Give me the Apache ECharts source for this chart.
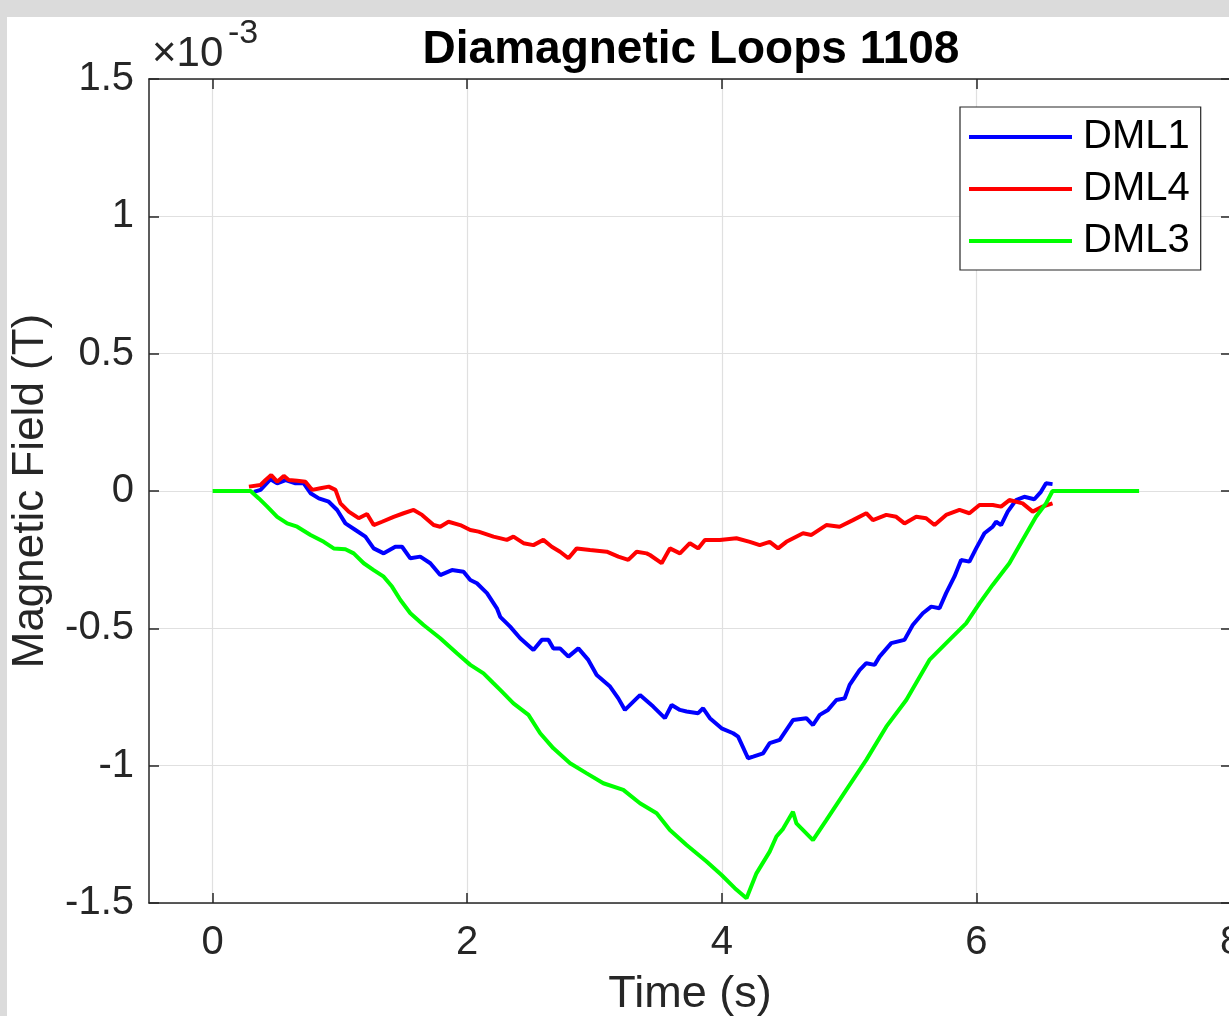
<!DOCTYPE html>
<html>
<head>
<meta charset="utf-8">
<script src="https://cdn.jsdelivr.net/npm/echarts@6/dist/echarts.min.js"></script>
<style>
  html, body { margin: 0; padding: 0; background: #dbdbdb; width: 1229px; height: 1016px; overflow: hidden; }
  #paper { position: absolute; left: 7px; top: 17px; width: 1222px; height: 999px; background: #ffffff; }
  #chart { position: absolute; left: 0; top: 0; width: 1229px; height: 1016px; }
</style>
</head>
<body>
<div id="paper"></div>
<div id="chart"></div>
<script>
// ---- data (values in units of 1e-3 T) ----
const titleText = 'Diamagnetic Loops 1108';
const seriesNames = ['DML1', 'DML4', 'DML3'];
const xTicks = [0, 2, 4, 6, 8];
const yTicks = [-1.5, -1, -0.5, 0, 0.5, 1, 1.5];

const dml1T = [0.324, 0.376, 0.455, 0.507, 0.573, 0.651, 0.716, 0.769, 0.834, 0.912, 0.978, 1.043, 1.122, 1.200, 1.265, 1.344, 1.435, 1.488, 1.553, 1.631, 1.710, 1.788, 1.880, 1.971, 2.024, 2.076, 2.155, 2.233, 2.259, 2.337, 2.416, 2.520, 2.586, 2.638, 2.677, 2.729, 2.795, 2.873, 2.951, 3.017, 3.122, 3.187, 3.239, 3.357, 3.461, 3.553, 3.606, 3.671, 3.723, 3.814, 3.853, 3.906, 3.998, 4.089, 4.128, 4.206, 4.246, 4.324, 4.376, 4.455, 4.559, 4.664, 4.716, 4.769, 4.834, 4.900, 4.965, 5.004, 5.082, 5.135, 5.200, 5.239, 5.331, 5.435, 5.500, 5.579, 5.645, 5.710, 5.762, 5.827, 5.880, 5.945, 5.998, 6.063, 6.128, 6.155, 6.194, 6.246, 6.311, 6.376, 6.455, 6.507, 6.547, 6.598];
const dml1V = [-0.003, 0.004, 0.043, 0.028, 0.040, 0.028, 0.028, -0.008, -0.027, -0.039, -0.069, -0.118, -0.142, -0.166, -0.209, -0.227, -0.203, -0.203, -0.245, -0.239, -0.263, -0.306, -0.288, -0.294, -0.324, -0.336, -0.372, -0.427, -0.458, -0.494, -0.536, -0.579, -0.542, -0.542, -0.573, -0.573, -0.603, -0.573, -0.615, -0.670, -0.712, -0.755, -0.797, -0.743, -0.785, -0.827, -0.779, -0.797, -0.803, -0.809, -0.791, -0.827, -0.864, -0.882, -0.894, -0.973, -0.967, -0.955, -0.918, -0.906, -0.834, -0.827, -0.852, -0.815, -0.797, -0.761, -0.755, -0.706, -0.652, -0.627, -0.633, -0.603, -0.554, -0.542, -0.488, -0.445, -0.421, -0.427, -0.372, -0.312, -0.251, -0.257, -0.209, -0.154, -0.130, -0.112, -0.124, -0.075, -0.033, -0.021, -0.030, -0.003, 0.028, 0.025];

const dml4T = [0.285, 0.376, 0.416, 0.460, 0.507, 0.559, 0.598, 0.664, 0.729, 0.782, 0.847, 0.912, 0.965, 1.004, 1.069, 1.147, 1.213, 1.265, 1.331, 1.422, 1.500, 1.579, 1.645, 1.736, 1.788, 1.853, 1.945, 2.024, 2.089, 2.206, 2.311, 2.363, 2.442, 2.520, 2.598, 2.664, 2.729, 2.795, 2.860, 2.965, 3.096, 3.187, 3.265, 3.331, 3.409, 3.435, 3.527, 3.592, 3.671, 3.749, 3.814, 3.867, 3.984, 4.115, 4.220, 4.298, 4.376, 4.442, 4.507, 4.638, 4.704, 4.821, 4.925, 5.030, 5.135, 5.187, 5.292, 5.370, 5.435, 5.527, 5.605, 5.671, 5.762, 5.867, 5.945, 6.024, 6.128, 6.194, 6.259, 6.363, 6.442, 6.520, 6.598];
const dml4V = [0.016, 0.022, 0.040, 0.058, 0.034, 0.055, 0.040, 0.037, 0.034, 0.004, 0.010, 0.016, 0.004, -0.045, -0.075, -0.099, -0.084, -0.124, -0.112, -0.094, -0.081, -0.069, -0.087, -0.124, -0.130, -0.112, -0.124, -0.142, -0.148, -0.166, -0.178, -0.166, -0.190, -0.197, -0.178, -0.203, -0.221, -0.245, -0.209, -0.215, -0.221, -0.239, -0.251, -0.221, -0.227, -0.233, -0.263, -0.209, -0.227, -0.190, -0.209, -0.178, -0.178, -0.172, -0.185, -0.197, -0.185, -0.209, -0.185, -0.154, -0.160, -0.124, -0.130, -0.106, -0.081, -0.106, -0.087, -0.094, -0.118, -0.094, -0.099, -0.124, -0.087, -0.069, -0.081, -0.051, -0.051, -0.057, -0.033, -0.045, -0.075, -0.057, -0.045];

const dml3T = [0.000, 0.298, 0.363, 0.429, 0.507, 0.586, 0.664, 0.769, 0.873, 0.951, 1.043, 1.108, 1.187, 1.265, 1.344, 1.409, 1.475, 1.553, 1.657, 1.788, 1.919, 2.024, 2.128, 2.206, 2.259, 2.363, 2.481, 2.573, 2.677, 2.808, 2.939, 3.069, 3.226, 3.357, 3.488, 3.592, 3.723, 3.880, 3.998, 4.102, 4.194, 4.272, 4.376, 4.429, 4.481, 4.559, 4.586, 4.716, 4.821, 4.978, 5.135, 5.292, 5.449, 5.631, 5.788, 5.919, 6.024, 6.128, 6.259, 6.363, 6.468, 6.547, 6.598, 6.729, 7.278];
const dml3V = [0, 0, -0.027, -0.057, -0.094, -0.118, -0.130, -0.160, -0.185, -0.209, -0.212, -0.227, -0.263, -0.288, -0.312, -0.348, -0.397, -0.445, -0.488, -0.536, -0.591, -0.633, -0.664, -0.700, -0.724, -0.773, -0.815, -0.882, -0.937, -0.991, -1.028, -1.064, -1.088, -1.137, -1.173, -1.234, -1.289, -1.349, -1.398, -1.446, -1.483, -1.392, -1.313, -1.258, -1.230, -1.168, -1.210, -1.271, -1.198, -1.088, -0.979, -0.858, -0.761, -0.615, -0.542, -0.482, -0.409, -0.342, -0.263, -0.178, -0.094, -0.045, 0, 0, 0];

const seriesColors = ['#0000ff', '#ff0000', '#00ff00'];

function zip(t, v) { return t.map((x, i) => [x, v[i]]); }
const seriesData = [zip(dml1T, dml1V), zip(dml4T, dml4V), zip(dml3T, dml3V)];

const FONT = '"Liberation Sans", Arial, Helvetica, sans-serif';
const AX = '#262626';

const chart = echarts.init(document.getElementById('chart'), null, { renderer: 'canvas' });

const xBase = {
  type: 'value', min: -0.5, max: 8,
  axisLine: { show: true, onZero: false, lineStyle: { color: AX, width: 1.5 } },
  axisTick: { show: true, inside: true, length: 10, customValues: xTicks, lineStyle: { color: AX, width: 1.5 } }
};
const yBase = {
  type: 'value', min: -1.5, max: 1.5, interval: 0.5,
  axisLine: { show: true, onZero: false, lineStyle: { color: AX, width: 1.5 } },
  axisTick: { show: true, inside: true, length: 10, lineStyle: { color: AX, width: 1.5 } }
};

chart.setOption({
  animation: false,
  backgroundColor: 'transparent',
  textStyle: { fontFamily: FONT },
  title: {
    text: titleText,
    left: 686, top: 22, textAlign: 'center',
    textStyle: { fontFamily: FONT, fontSize: 46, fontWeight: 'bold', color: '#000000' }
  },
  legend: {
    orient: 'vertical',
    left: 960, top: 107,
    padding: [10, 11, 9, 9],
    itemGap: 12,
    itemWidth: 103, itemHeight: 4,
    itemTextGap: 19,
    icon: 'rect',
    backgroundColor: '#ffffff',
    borderColor: AX, borderWidth: 1.2, borderRadius: 0,
    textStyle: { fontFamily: FONT, fontSize: 40, color: '#000000', padding: [0, 0, 0, 6] },
    data: seriesNames
  },
  grid: { left: 149, top: 79, width: 1082, height: 824, containLabel: false, outerBoundsMode: 'none' },
  xAxis: [
    Object.assign({}, xBase, {
      position: 'bottom',
      name: 'Time (s)', nameLocation: 'middle', nameGap: 69,
      nameTextStyle: { fontFamily: FONT, fontSize: 45, color: AX },
      axisLabel: { show: true, customValues: xTicks, margin: 20, fontFamily: FONT, fontSize: 40, color: AX },
      splitLine: { show: true, lineStyle: { color: '#e0e0e0', width: 1.2 } }
    }),
    Object.assign({}, xBase, {
      position: 'top',
      axisLabel: { show: false },
      splitLine: { show: false }
    })
  ],
  yAxis: [
    Object.assign({}, yBase, {
      position: 'left',
      name: 'Magnetic Field (T)', nameLocation: 'middle', nameGap: 96, nameRotate: 90,
      nameTextStyle: { fontFamily: FONT, fontSize: 44, color: AX },
      axisLabel: { show: true, margin: 15, fontFamily: FONT, fontSize: 40, color: AX,
        formatter: v => String(Math.round(v * 10) / 10) },
      splitLine: { show: true, lineStyle: { color: '#e0e0e0', width: 1.2 } }
    }),
    Object.assign({}, yBase, {
      position: 'right',
      axisLabel: { show: false },
      splitLine: { show: false }
    })
  ],
  graphic: [
    { type: 'text', left: 152, top: 33, silent: true,
      style: { text: '\u00d710', font: '42px ' + FONT, fill: AX } },
    { type: 'text', left: 228, top: 17, silent: true,
      style: { text: '-3', font: '34px ' + FONT, fill: AX } }
  ],
  series: seriesNames.map((n, i) => ({
    name: n, type: 'line', xAxisIndex: 0, yAxisIndex: 0,
    data: seriesData[i], showSymbol: false, symbol: 'none',
    lineStyle: { color: seriesColors[i], width: 4 },
    itemStyle: { color: seriesColors[i] },
    emphasis: { disabled: true }
  }))
});
</script>
</body>
</html>
